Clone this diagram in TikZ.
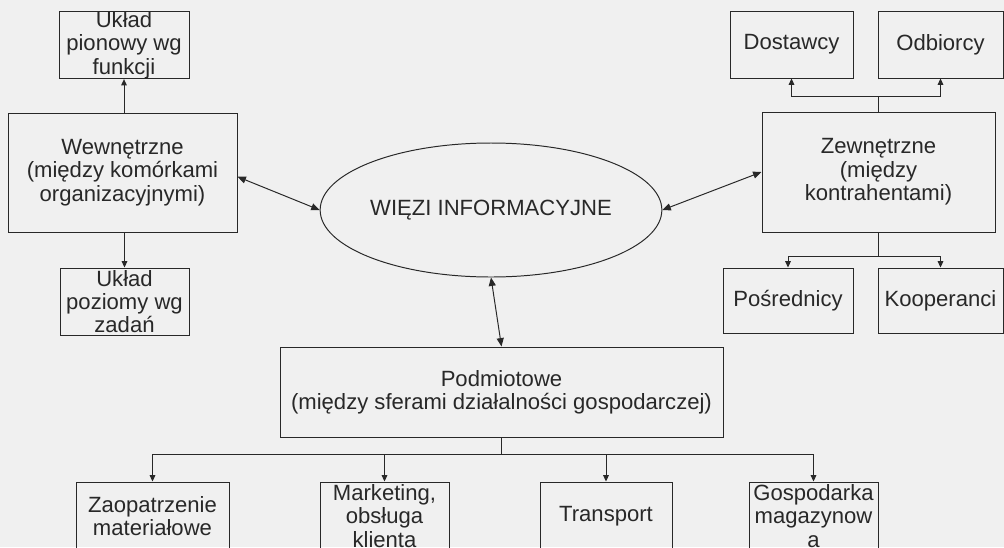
\documentclass[tikz,border=0pt]{standalone}
\usepackage{fontspec}
\setmainfont{Liberation Sans}
\usetikzlibrary{shapes.geometric,arrows.meta}
\definecolor{paper}{RGB}{240,240,240}
\definecolor{ink}{RGB}{40,40,40}

\begin{document}
\begin{tikzpicture}[x=0.025cm,y=-0.025cm,
	box/.style={draw=ink,line width=.7pt,inner sep=0pt,align=center,text=ink,font=\fontsize{15.7}{16.6}\selectfont},
	wh/.style 2 args={minimum width=#1*0.025cm,minimum height=#2*0.025cm},
	wire/.style={draw=ink,line width=.7pt},
	link/.style={wire,-{Triangle[length=4.5pt,width=4pt]}},
	biglink/.style={wire,{Triangle[length=6pt,width=5pt]}-{Triangle[length=6pt,width=5pt]}}]
	\useasboundingbox (0,0) rectangle (1004,547);
	\clip (0,0) rectangle (1004,547);
	\fill[paper] (0,0) rectangle (1004,547);

	% left side
	\node[box,wh={130}{65}] (pion) at (124,45) {Układ\\pionowy wg\\funkcji};
	\node[box,wh={229}{119}] (wewn) at (122.5,172.5) {Wewnętrzne\\(między komórkami\\organizacyjnymi)};
	\node[box,wh={129}{67}] (poziom) at (124.5,301.5) {Układ\\poziomy wg\\zadań};

	% centre
	\node[box,ellipse,wh={308}{134}] (wiezi) at (491,210) {WIĘZI INFORMACYJNE};
	\node[box,wh={443}{90}] (podm) at (501.5,392) {Podmiotowe\\(między sferami działalności gospodarczej)};

	% right side
	\node[box,wh={233}{120}] (zewn) at (878.5,172) {Zewnętrzne\\(między\\kontrahentami)};
	\node[box,wh={123}{67}] (dost) at (791.5,44.5) {Dostawcy};
	\node[box,wh={125}{67}] (odb) at (940.5,44.5) {Odbiorcy};
	\node[box,wh={130}{65}] (posr) at (788,300.5) {Pośrednicy};
	\node[box,wh={125}{65}] (koop) at (940.5,300.5) {Kooperanci};

	% bottom row
	\node[box,wh={153}{68}] (zaop) at (152.5,516) {Zaopatrzenie\\materiałowe};
	\node[box,wh={129}{68}] (mark) at (384.5,516) {Marketing,\\obsługa\\klienta};
	\node[box,wh={132}{68}] (trans) at (606,516) {Transport};
	\node[box,wh={129}{68}] (gosp) at (813.5,516) {Gospodarka\\magazynow\\a};

	\coordinate (zt) at (878.5,96);
	\coordinate (zb) at (878.5,256);
	\coordinate (pb) at (501.5,454);

	\draw[link] (wewn.north -| pion) -- (pion.south);
	\draw[link] (wewn.south -| poziom) -- (poziom.north);
	\draw[biglink] ([yshift=-3pt]wewn.east) -- (wiezi.west);
	\draw[biglink] (wiezi.east) -- (zewn.west);
	\draw[biglink] (wiezi.south) -- (podm.north);

	\draw[wire] (zewn.north) -- (zt);
	\draw[link] (zt) -| (dost.south);
	\draw[link] (zt) -| (odb.south);
	\draw[wire] (zewn.south) -- (zb);
	\draw[link] (zb) -| (posr.north);
	\draw[link] (zb) -| (koop.north);

	\draw[wire] (podm.south) -- (pb);
	\foreach \n in {zaop,mark,trans,gosp}
		\draw[link] (pb) -| (\n.north);
\end{tikzpicture}
\end{document}
